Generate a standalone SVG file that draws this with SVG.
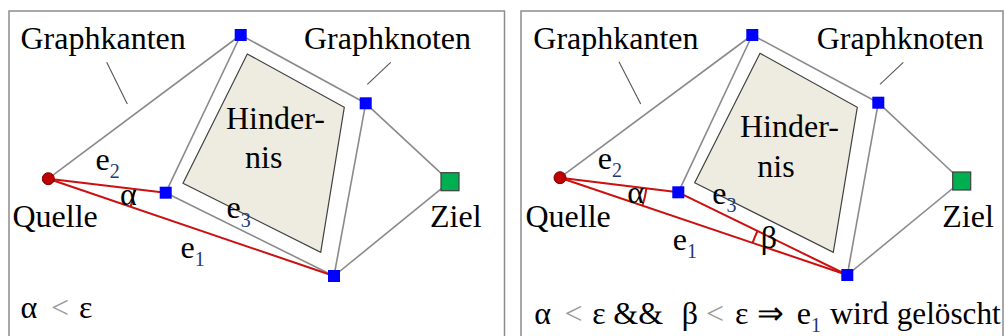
<svg xmlns="http://www.w3.org/2000/svg" width="1005" height="336" viewBox="0 0 1005 336">
<style>
.frame{fill:none;stroke:#8c8c8c;stroke-width:1.5}
.edge{stroke:#8a8a8a;stroke-width:1.6;fill:none}
.red{stroke:#cc1010;stroke-width:2;fill:none}
.lead{stroke:#555;stroke-width:1.1}
.obst{fill:#eeece1;stroke:#404040;stroke-width:1.2}
.node{fill:#0000ff}
.src{fill:#c00000;stroke:#7a0000;stroke-width:1}
.dst{fill:#00b050;stroke:#404040;stroke-width:1.2}
text{font-family:"Liberation Serif","Times New Roman",serif;font-size:32px;fill:#000}
.sub{font-size:20px;fill:#203a78}
.lt{fill:#9a9a9a}
</style>
<rect x="0" y="0" width="1005" height="336" fill="#fff"/>
<path class="frame" d="M9,340 V11 H504.5 V340"/>
<path class="frame" d="M521,340 V11 H1003 V340"/>

<!-- LEFT PANEL -->
<g id="left-obstacle"><polygon class="obst" points="247.3,54 344.3,107.3 320.7,252.3 183,183.3"/><text x="226" y="129">Hinder-</text><text x="245" y="167.5">nis</text></g>
<g id="left-connectors">
<line class="edge" x1="48.3" y1="178.7" x2="240.7" y2="35"/>
<line class="edge" x1="240.7" y1="35" x2="165.7" y2="192.7"/>
<line class="edge" x1="240.7" y1="35" x2="365.7" y2="103.3"/>
<line class="edge" x1="365.7" y1="103.3" x2="450" y2="181.7"/>
<line class="edge" x1="365.7" y1="103.3" x2="334" y2="276"/>
<line class="edge" x1="165.7" y1="192.7" x2="334" y2="276"/>
<line class="edge" x1="334" y1="276" x2="450" y2="181.7"/>
<line class="red" x1="48.3" y1="178.7" x2="165.7" y2="192.7"/>
<line class="red" x1="48.3" y1="178.7" x2="334" y2="276"/>
<path class="red" d="M134.7,189 A87,87 0 0 1 130.6,206.7"/>
<line class="lead" x1="106.7" y1="62.3" x2="127.3" y2="104"/>
<line class="lead" x1="390.7" y1="62.3" x2="367.3" y2="84.3"/>
</g>
<g id="left-quelle"><circle class="src" cx="48.3" cy="178.7" r="6"/><text x="12.5" y="226.7">Quelle</text></g>
<g id="left-ziel"><rect class="dst" x="441" y="172.7" width="18" height="18"/><text x="430" y="226.7">Ziel</text></g>
<g id="left-n1"><rect class="node" x="234.7" y="29" width="12" height="12"/></g>
<g id="left-n2"><rect class="node" x="359.7" y="97.3" width="12" height="12"/></g>
<g id="left-n3"><rect class="node" x="159.7" y="186.7" width="12" height="12"/></g>
<g id="left-n4"><rect class="node" x="328" y="270" width="12" height="12"/></g>
<g id="left-labels">
<text x="95.5" y="170">e<tspan class="sub" dy="8">2</tspan></text>
<text x="120" y="205">α</text>
<text x="20.5" y="49.3">Graphkanten</text>
<text x="304" y="49.3">Graphknoten</text>
<text x="226.5" y="218">e<tspan class="sub" dy="8.5">3</tspan></text>
<text x="180.5" y="258">e<tspan class="sub" dy="7.5">1</tspan></text>
<text x="20.5" y="318.3">α</text>
<text class="lt" x="51" y="318.3">&lt;</text>
<text x="79" y="318.3">ε</text>
</g>

<!-- RIGHT PANEL -->
<g id="right-obstacle"><polygon class="obst" points="760,53.3 857.3,107.3 833.3,252.3 694.7,182.7"/><text x="740" y="137.3">Hinder-</text><text x="757.3" y="176.7">nis</text></g>
<g id="right-connectors">
<line class="edge" x1="560" y1="177.7" x2="752.3" y2="35"/>
<line class="edge" x1="752.3" y1="35" x2="678.3" y2="192.3"/>
<line class="edge" x1="752.3" y1="35" x2="878.3" y2="102.7"/>
<line class="edge" x1="878.3" y1="102.7" x2="961.7" y2="181"/>
<line class="edge" x1="878.3" y1="102.7" x2="847.3" y2="275"/>
<line class="edge" x1="847.3" y1="275" x2="961.7" y2="181"/>
<line class="red" x1="560" y1="177.7" x2="678.3" y2="192.3"/>
<line class="red" x1="560" y1="177.7" x2="847.3" y2="275"/>
<line class="red" x1="678.3" y1="192.3" x2="847.3" y2="275"/>
<path class="red" d="M646.4,188.3 A87,87 0 0 1 642.4,205.6"/>
<path class="red" d="M752.6,242.9 A100,100 0 0 1 757.5,231"/>
<line class="lead" x1="619" y1="61.7" x2="640.7" y2="104"/>
<line class="lead" x1="903.3" y1="62.3" x2="880" y2="84.3"/>
</g>
<g id="right-quelle"><circle class="src" cx="560" cy="177.7" r="6"/><text x="525.5" y="226.7">Quelle</text></g>
<g id="right-ziel"><rect class="dst" x="952.7" y="172" width="18" height="18"/><text x="942.3" y="226.7">Ziel</text></g>
<g id="right-n1"><rect class="node" x="746.3" y="29" width="12" height="12"/></g>
<g id="right-n2"><rect class="node" x="872.3" y="96.7" width="12" height="12"/></g>
<g id="right-n3"><rect class="node" x="672.3" y="186.3" width="12" height="12"/></g>
<g id="right-n4"><rect class="node" x="841.3" y="269" width="12" height="12"/></g>
<g id="right-labels">
<text x="533.3" y="49.3">Graphkanten</text>
<text x="816.7" y="49.3">Graphknoten</text>
<text x="597.7" y="169">e<tspan class="sub" dy="8">2</tspan></text>
<text x="627.3" y="203.3">α</text>
<text x="712.3" y="204">e<tspan class="sub" dy="8">3</tspan></text>
<text x="760.7" y="248">β</text>
<text x="672.7" y="250">e<tspan class="sub" dy="7.5">1</tspan></text>
<text x="534.3" y="324">α</text>
<text class="lt" x="564.5" y="324">&lt;</text>
<text x="592.3" y="324">ε</text>
<text x="613.3" y="324">&amp;&amp;</text>
<text x="681.7" y="324">β</text>
<text class="lt" x="706" y="324">&lt;</text>
<text x="735" y="324">ε</text>
<text x="756.7" y="324">⇒</text>
<text x="796.7" y="324">e<tspan class="sub" dy="7.5">1</tspan></text>
<text x="830" y="324">wird</text>
<text x="896.7" y="324" textLength="104" lengthAdjust="spacingAndGlyphs">gelöscht</text>
</g>
</svg>
